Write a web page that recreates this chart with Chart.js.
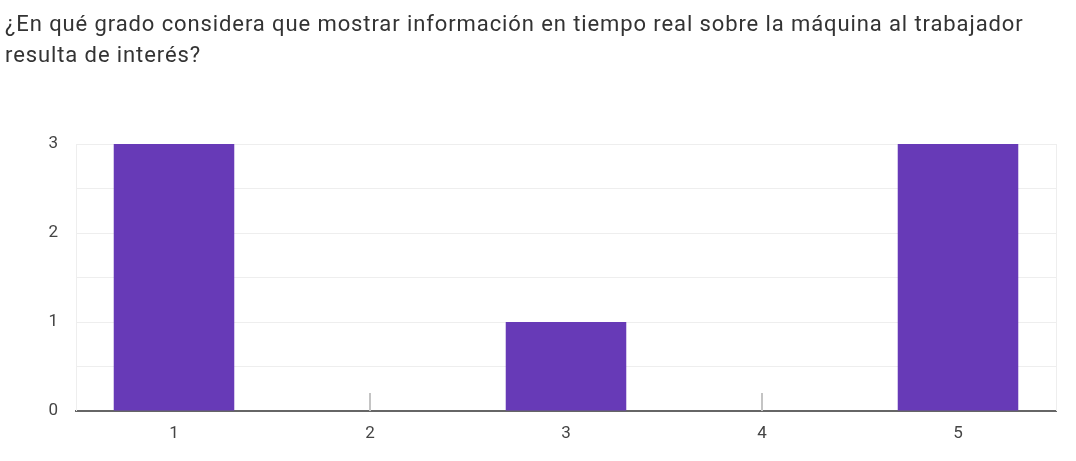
<!DOCTYPE html>
<html>
<head>
<meta charset="utf-8">
<script src="https://cdn.jsdelivr.net/npm/chart.js@4"></script>
<style>
    html, body { margin: 0; padding: 0; background: #fff; }
    #wrap { position: relative; width: 1076px; height: 461px; }
    #title { position: absolute; left: 5px; top: 8px; width: 1070px; font: 22px Roboto, sans-serif; letter-spacing: 0.9px; line-height: 31px; color: #333; white-space: nowrap; }
    #chart { position: absolute; left: 0; top: 0; }
</style>
</head>
<body>
<div id="wrap">
    <canvas id="chart" width="1076" height="461"></canvas>
    <div id="title">¿En qué grado considera que mostrar información en tiempo real sobre la máquina al trabajador<br>resulta de interés?</div>
</div>
<script>
const categories = ['1', '2', '3', '4', '5'];
const counts = [3, 0, 1, 0, 3];
const yTicks = [0, 1, 2, 3];

// marcas grises para las categorías con valor cero + bordes laterales
const zeroMarks = {
    id: 'zeroMarks',
    afterDatasetsDraw(chart) {
        const { ctx, chartArea, scales } = chart;
        ctx.save();
        ctx.strokeStyle = '#eeeeee';
        ctx.lineWidth = 1;
        [chartArea.left, chartArea.right].forEach(x => {
            ctx.beginPath();
            ctx.moveTo(Math.round(x) + 0.5, chartArea.top);
            ctx.lineTo(Math.round(x) + 0.5, chartArea.bottom);
            ctx.stroke();
        });
        ctx.strokeStyle = '#c4c4c4';
        ctx.lineWidth = 2;
        counts.forEach((v, i) => {
            if (v !== 0) return;
            const x = scales.x.getPixelForValue(i);
            const y0 = scales.y.getPixelForValue(0);
            ctx.beginPath();
            ctx.moveTo(x, y0);
            ctx.lineTo(x, y0 - 18);
            ctx.stroke();
        });
        ctx.restore();
    }
};

new Chart(document.getElementById('chart'), {
    type: 'bar',
    data: {
        labels: categories,
        datasets: [{ data: counts, backgroundColor: '#673ab7', borderWidth: 0, categoryPercentage: 1, barPercentage: 0.615 }]
    },
    options: {
        responsive: false,
        animation: false,
        devicePixelRatio: 1,
        layout: { padding: { top: 144, right: 20, left: 0, bottom: 0 } },
        plugins: { legend: { display: false }, tooltip: { enabled: false } },
        scales: {
            x: {
                grid: { display: false },
                border: { color: '#666', width: 2 },
                ticks: { color: '#444', font: { family: 'Roboto', size: 17 }, padding: 5 },
                afterFit: s => { s.height = 50; }
            },
            y: {
                min: 0,
                max: 3,
                ticks: {
                    stepSize: 0.5,
                    color: '#444',
                    font: { family: 'Roboto', size: 17 },
                    padding: 18,
                    callback: v => yTicks.includes(v) ? v : ''
                },
                grid: { color: '#eeeeee', drawTicks: false },
                border: { display: false },
                afterFit: s => { s.width = 76; }
            }
        }
    },
    plugins: [zeroMarks]
});
</script>
</body>
</html>
